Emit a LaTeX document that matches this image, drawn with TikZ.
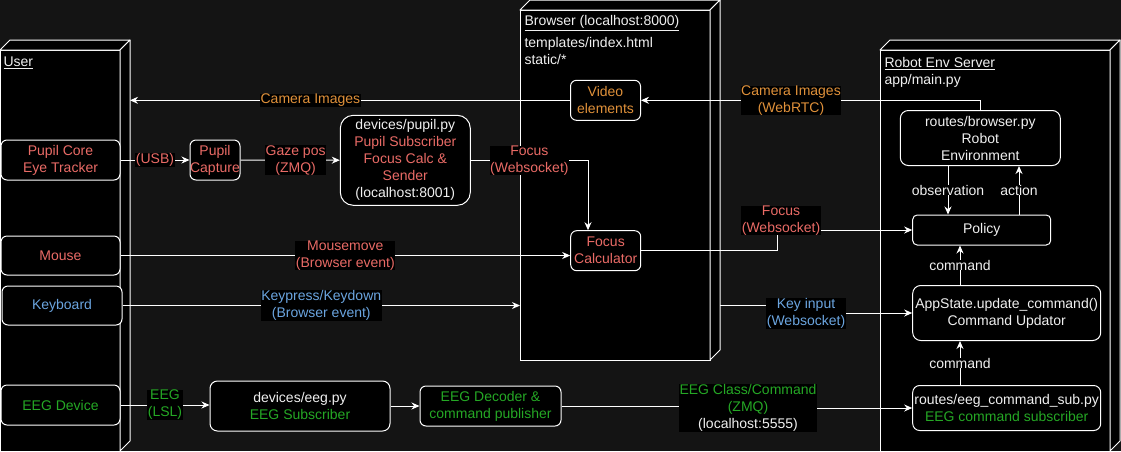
\documentclass[tikz,border=0pt]{standalone}
\usepackage{fontspec}
\setmainfont{Liberation Sans}
\usetikzlibrary{arrows.meta}
\definecolor{bgclr}{HTML}{141414}
\definecolor{fgclr}{HTML}{F0F0F0}
\definecolor{redtxt}{HTML}{EA6B66}
\definecolor{orangetxt}{HTML}{E0913A}
\definecolor{bluetxt}{HTML}{6BA5E0}
\definecolor{greentxt}{HTML}{25A825}

\begin{document}
\begin{tikzpicture}[x=1pt, y=-1pt, line width=1pt,
  font=\fontsize{14}{17}\selectfont,
  cube/.style={draw=white, fill=black, inner sep=0pt, outer sep=0pt, anchor=north west},
  face/.style={draw=white, fill=black, line join=round},
  box/.style={draw=white, fill=black, rounded corners=6pt, align=center,
    inner sep=0pt, text=fgclr},
  lbl/.style={fill=black, align=center, inner xsep=0.5pt, inner ysep=0pt, text=fgclr},
  title/.style={align=left, inner sep=0pt, text=fgclr, anchor=west},
  link/.style={draw=white, -{Stealth[length=8pt,width=7pt]}}]
  \fill[bgclr] (0,0) rectangle (1121,451);
  \useasboundingbox (0,0) rectangle (1121,451);

  % 三个容器（立方体）
  \node[cube, minimum width=120pt, minimum height=401pt] (user) at (0,50) {};
  \node[cube, minimum width=190pt, minimum height=350pt] (browser) at (520,10) {};
  \node[cube, minimum width=230pt, minimum height=401pt] (robot) at (880,50) {};
  \foreach \c in {user, browser, robot} {
    \draw[face] (\c.north west) -- ++(10pt,10pt) -- ([shift={(10pt,10pt)}]\c.north east)
      -- (\c.north east) -- cycle;
    \draw[face] (\c.north east) -- ++(10pt,10pt) -- ([shift={(10pt,10pt)}]\c.south east)
      -- (\c.south east) -- cycle;
  }
  \coordinate (userR) at (130,0);
  \coordinate (browR) at (720,0);

  \node[title] (usertitle) at (3,63) {\underline{User}};
  \node[title] (browsertitle) at (524,23) {\underline{Browser (localhost:8000)}};
  \node[title] (browserfiles) at (524,51.3) {templates/index.html\\static/*};
  \node[title] (robottitle) at (884,63.3) {\underline{Robot Env Server}};
  \node[title] (robotfile) at (884,80.7) {app/main.py};

  % 用户侧设备
  \node[box, text=redtxt, minimum width=119pt, minimum height=40pt] (pupilcore) at (60.5,160) {Pupil Core\\Eye Tracker};
  \node[box, text=redtxt, minimum width=119pt, minimum height=39pt] (mouse) at (60.5,255.5) {Mouse};
  \node[box, text=bluetxt, minimum width=120pt, minimum height=39pt] (keyboard) at (62,305.5) {Keyboard};
  \node[box, text=greentxt, minimum width=119pt, minimum height=40pt] (eegdev) at (60.5,405) {EEG Device};

  \node[box, text=redtxt, minimum width=50pt, minimum height=40pt] (capture) at (215,160) {Pupil\\Capture};
  \node[box, rounded corners=13pt, minimum width=130pt, minimum height=90pt] (pupilpy) at (405.3,160.3)
    {devices/pupil.py\\\color{redtxt}Pupil Subscriber\\\color{redtxt}Focus Calc \&\\\color{redtxt}Sender\\\color{fgclr}(localhost:8001)};
  \node[box, rounded corners=7.5pt, minimum width=180pt, minimum height=50pt] (eegpy) at (300,406)
    {devices/eeg.py\\\color{greentxt}EEG Subscriber};
  \node[box, text=greentxt, minimum width=141pt, minimum height=40pt] (decoder) at (490.5,406)
    {EEG Decoder \&\\command publisher};

  % 浏览器
  \node[box, text=orangetxt, minimum width=70pt, minimum height=40pt] (video) at (605.5,100.3) {Video\\elements};
  \node[box, text=redtxt, minimum width=70pt, minimum height=40pt] (focuscalc) at (605.7,250.7) {Focus\\Calculator};

  % 服务器
  \node[box, rounded corners=8pt, minimum width=160pt, minimum height=55pt] (browserpy) at (980.3,138)
    {routes/browser.py\\Robot\\Environment};
  \node[box, rounded corners=4.5pt, minimum width=138pt, minimum height=30pt] (policy) at (981.7,230) {Policy};
  \node[box, rounded corners=8pt, minimum width=188pt, minimum height=55pt] (appstate) at (1006.7,313)
    {AppState.update\_command()\\Command Updator};
  \node[box, rounded corners=7pt, minimum width=188pt, minimum height=45pt] (eegsub) at (1006.7,408)
    {routes/eeg\_command\_sub.py\\\color{greentxt}EEG command subscriber};

  % 图像流
  \draw[link] (browserpy.north) |- (video.east);
  \node[lbl, text=orangetxt] (webrtc) at (791,100.5) {Camera Images\\(WebRTC)};
  \draw[link] (video.west) -- (video.west -| userR)
    node[lbl, pos=0.59, text=orangetxt] (camimg) {Camera Images};

  % 眼动
  \draw[link] (pupilcore) -- (capture) node[lbl, midway, text=redtxt] (usb) {(USB)};
  \draw[link] (capture) -- (pupilpy) node[lbl, pos=0.555, text=redtxt] (gaze) {Gaze pos\\(ZMQ)};
  \draw[link] (pupilpy.east) -| ([xshift=-17.7pt]focuscalc.north)
    node[lbl, pos=0.25, text=redtxt] (focusws) {Focus\\(Websocket)};

  % 鼠标、键盘
  \draw[link] (mouse.east) -- (mouse.east -| focuscalc.west)
    node[lbl, midway, text=redtxt] (mousemove) {Mousemove\\(Browser event)};
  \draw[link] (keyboard.east) -- (keyboard.east -| browser.west)
    node[lbl, midway, text=bluetxt] (keypress) {Keypress/Keydown\\(Browser event)};

  \coordinate (fbend) at (777,0);
  \draw[link] (focuscalc.east) -| (fbend |- policy.west) -- (policy.west);
  \node[lbl, text=redtxt] (focusws2) at (781,220.5) {Focus\\(Websocket)};

  \coordinate (kbend) at (806,0);
  \draw[link] (keyboard.east -| browR) -| (kbend |- appstate.west) -- (appstate.west);
  \node[lbl, text=bluetxt] (keyin) at (806,313.5) {Key input\\(Websocket)};

  % EEG
  \draw[link] (eegdev.east) -- (eegdev.east -| eegpy.west)
    node[lbl, midway, text=greentxt] (lsl) {EEG\\(LSL)};
  \draw[link] (eegpy.east) -- (eegpy.east -| decoder.west);
  \coordinate (ebend) at (748,0);
  \draw[link] (decoder.east) -| (ebend |- eegsub.west) -- (eegsub.west);
  \node[lbl, text=greentxt] (eegzmq) at (748,408)
    {EEG Class/Command\\(ZMQ)\\\color{fgclr}(localhost:5555)};

  % 服务器内部
  \coordinate (obsx) at (948,0);
  \coordinate (actx) at (1019,0);
  \coordinate (cmdx) at (960,0);
  \draw[link] (obsx |- browserpy.south) -- (obsx |- policy.north) node[lbl, midway] (obs) {observation};
  \draw[link] (actx |- policy.north) -- (actx |- browserpy.south) node[lbl, midway] (act) {action};
  \draw[link] (cmdx |- appstate.north) -- (cmdx |- policy.south) node[lbl, midway] (cmd1) {command};
  \draw[link] (cmdx |- eegsub.north) -- (cmdx |- appstate.south) node[lbl, midway] (cmd2) {command};
\end{tikzpicture}
\end{document}
